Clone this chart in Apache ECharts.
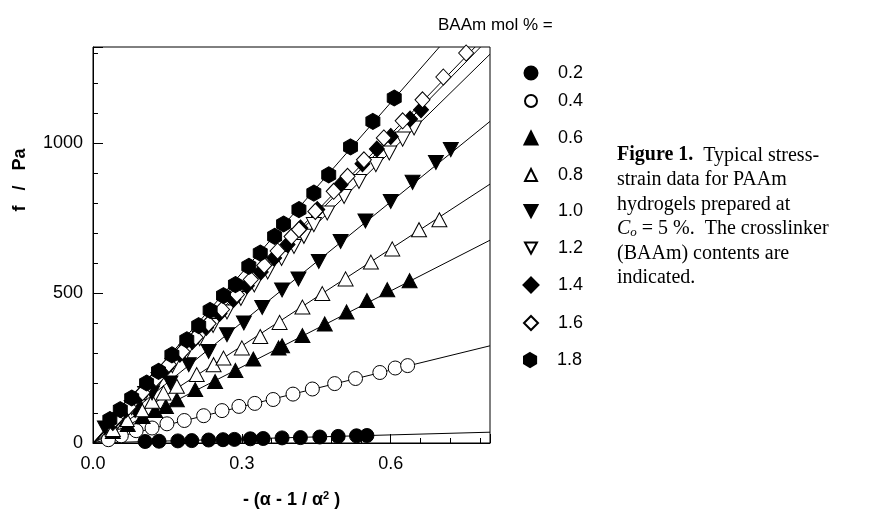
<!DOCTYPE html>
<html>
<head>
<meta charset="utf-8">
<script src="https://cdn.jsdelivr.net/npm/echarts@6/dist/echarts.min.js"></script>
<style>
html, body { margin: 0; padding: 0; background: #fff; }
#chart { width: 881px; height: 515px; }
</style>
</head>
<body>
<div id="chart"></div>
<script>
// tick labels
var xTickLabels = ['0.0', '0.3', '0.6'];
var yTickLabels = ['0', '500', '1000'];

// BAAm contents (legend)
var groups = ['0.2', '0.4', '0.6', '0.8', '1.0', '1.2', '1.4', '1.6', '1.8'];

// measured points [ -(a - 1/a^2), f / Pa ]
var d02 = [[0.105, 5], [0.133, 6], [0.171, 7], [0.199, 8], [0.233, 10], [0.262, 11], [0.285, 12], [0.317, 14],
	[0.343, 15], [0.381, 17], [0.418, 18], [0.457, 20], [0.494, 22], [0.531, 24], [0.552, 25]];
var d04 = [[0.031, 11], [0.057, 24], [0.087, 41], [0.119, 50], [0.149, 64], [0.184, 75], [0.223, 91], [0.260, 108],
	[0.294, 122], [0.326, 132], [0.363, 145], [0.403, 163], [0.442, 180], [0.487, 198], [0.529, 215], [0.578, 235],
	[0.609, 250], [0.634, 258]];
var d06 = [[0.040, 38], [0.070, 62], [0.100, 88], [0.125, 108], [0.147, 122], [0.169, 144], [0.206, 178], [0.246, 205],
	[0.287, 242], [0.323, 280], [0.374, 317], [0.381, 324], [0.422, 358], [0.467, 397], [0.511, 437], [0.552, 475],
	[0.593, 511], [0.638, 541]];
var d08 = [[0.040, 45], [0.068, 78], [0.098, 111], [0.119, 139], [0.142, 167], [0.169, 189], [0.209, 228], [0.243, 261],
	[0.263, 283], [0.300, 317], [0.337, 355], [0.376, 402], [0.422, 453], [0.462, 498], [0.509, 547], [0.560, 603],
	[0.603, 647], [0.657, 711], [0.698, 744]];
var d10 = [[0.024, 50], [0.055, 78], [0.085, 109], [0.119, 167], [0.156, 200], [0.193, 261], [0.233, 305], [0.270, 361],
	[0.304, 400], [0.341, 452], [0.381, 510], [0.414, 547], [0.455, 605], [0.499, 672], [0.549, 740], [0.600, 805],
	[0.644, 869], [0.691, 935], [0.721, 978]];
var d12 = [[0.050, 70], [0.078, 118], [0.105, 165], [0.132, 212], [0.160, 258], [0.188, 303], [0.215, 348], [0.242, 392],
	[0.270, 437], [0.298, 482], [0.325, 527], [0.352, 570], [0.380, 615], [0.405, 655], [0.425, 689], [0.445, 728],
	[0.472, 767], [0.506, 822], [0.536, 872], [0.570, 928], [0.597, 967], [0.624, 1013], [0.647, 1050]];
var d14 = [[0.040, 68], [0.066, 110], [0.094, 158], [0.120, 203], [0.148, 250], [0.175, 296], [0.200, 338], [0.228, 385],
	[0.255, 432], [0.283, 478], [0.310, 524], [0.338, 570], [0.365, 617], [0.392, 662], [0.418, 717], [0.452, 778],
	[0.499, 861], [0.543, 931], [0.572, 980], [0.600, 1022], [0.639, 1080], [0.661, 1111]];
var d16 = [[0.045, 80], [0.072, 120], [0.100, 168], [0.127, 215], [0.153, 262], [0.180, 305], [0.207, 352], [0.233, 398],
	[0.260, 445], [0.290, 495], [0.318, 545], [0.345, 592], [0.372, 640], [0.400, 688], [0.415, 711], [0.448, 772],
	[0.485, 839], [0.513, 889], [0.546, 944], [0.586, 1017], [0.624, 1074], [0.664, 1144], [0.706, 1220], [0.752, 1300]];
var d18 = [[0.034, 78], [0.055, 111], [0.078, 150], [0.108, 200], [0.132, 239], [0.159, 294], [0.189, 344], [0.213, 391],
	[0.236, 442], [0.263, 491], [0.287, 528], [0.314, 589], [0.337, 633], [0.366, 689], [0.384, 730], [0.415, 778],
	[0.445, 833], [0.475, 894], [0.519, 987], [0.564, 1072], [0.607, 1150]];
var pointSets = [d02, d04, d06, d08, d10, d12, d14, d16, d18];

// fitted straight lines, start and end
var fitStart = [0, 0];
var fitEnds = [[0.8, 36], [0.8, 324], [0.8, 676], [0.8, 863], [0.8, 1072], [0.8, 1296], [0.781, 1320], [0.770, 1320], [0.698, 1320]];

var hexagon = 'path://M0,-10 L8.66,-5 L8.66,5 L0,10 L-8.66,5 L-8.66,-5 Z';
var downTri = 'path://M0,0 L14,0 L7,13 Z';
var marks = [
	{ symbol: 'circle', size: 14, legend: 13, fill: '#000' },
	{ symbol: 'circle', size: 14, legend: 12, fill: '#fff' },
	{ symbol: 'triangle', size: [15, 14], legend: 13, fill: '#000' },
	{ symbol: 'triangle', size: [15, 14], legend: 12, fill: '#fff' },
	{ symbol: downTri, size: [15, 14], legend: 13, fill: '#000' },
	{ symbol: downTri, size: [15, 14], legend: 12, fill: '#fff' },
	{ symbol: 'diamond', size: [15, 16], legend: 15, fill: '#000' },
	{ symbol: 'diamond', size: [15, 16], legend: 14, fill: '#fff' },
	{ symbol: hexagon, size: [14, 16], legend: 14, fill: '#000' }
];
// legend row centres (px)
var legendRows = [69, 97, 134, 171, 207, 244, 281, 319, 356];

var series = [];
fitEnds.forEach(function (end) {
	series.push({
		type: 'line',
		data: [fitStart, end],
		showSymbol: false,
		silent: true,
		lineStyle: { color: '#000', width: 1 },
		z: 1
	});
});
groups.forEach(function (g, i) {
	series.push({
		name: g,
		type: 'scatter',
		data: pointSets[i],
		symbol: marks[i].symbol,
		symbolSize: marks[i].size,
		itemStyle: { color: marks[i].fill, borderColor: '#000', borderWidth: 1, opacity: 1 },
		z: 3
	});
});

var legends = groups.map(function (g, i) {
	var s = marks[i].legend;
	return {
		data: [g],
		left: 525 - s / 2,
		top: legendRows[i] - 10,
		orient: 'vertical',
		itemWidth: s,
		itemHeight: s,
		selectedMode: false,
		textStyle: { fontFamily: 'Liberation Sans', fontSize: 18, color: '#000', padding: [0, 0, 0, 22 - s / 2] }
	};
});

var myChart = echarts.init(document.getElementById('chart'));
var option = {
	animation: false,
	backgroundColor: '#fff',
	title: {
		text: 'BAAm mol % =',
		left: 433,
		top: 12,
		textStyle: { fontFamily: 'Liberation Sans', fontSize: 17, fontWeight: 'normal', color: '#000' }
	},
	legend: legends,
	grid: { left: 93, right: 391, top: 47, bottom: 72, show: true, borderColor: '#000', borderWidth: 1 },
	xAxis: {
		type: 'value',
		min: 0,
		max: 0.8,
		interval: 0.3,
		name: '- (\u03b1 - 1 / \u03b1{sup|2} )',
		nameLocation: 'middle',
		nameGap: 47,
		nameTextStyle: {
			fontFamily: 'Liberation Sans', fontSize: 18, fontWeight: 'bold', color: '#000',
			rich: { sup: { fontFamily: 'Liberation Sans', fontSize: 11, fontWeight: 'bold', verticalAlign: 'bottom', padding: [0, 0, 9, 0] } }
		},
		axisLine: { lineStyle: { color: '#000', width: 1 } },
		axisTick: { inside: true, length: 9, lineStyle: { color: '#000' } },
		minorTick: { show: true, splitNumber: 5, length: 5, lineStyle: { color: '#000' } },
		splitLine: { show: false },
		axisLabel: {
			margin: 12,
			fontFamily: 'Liberation Sans', fontSize: 18, color: '#000',
			showMaxLabel: false,
			formatter: function (v) {
				var k = Math.round(v / 0.3);
				return Math.abs(v - k * 0.3) < 1e-6 && xTickLabels[k] ? xTickLabels[k] : '';
			}
		}
	},
	yAxis: {
		type: 'value',
		min: 0,
		max: 1320,
		interval: 500,
		name: 'f   /   Pa',
		nameLocation: 'middle',
		nameRotate: 90,
		nameGap: 64,
		nameTextStyle: { fontFamily: 'Liberation Sans', fontSize: 18, fontWeight: 'bold', color: '#000', padding: [0, 0, 0, 130] },
		axisLine: { lineStyle: { color: '#000', width: 1 } },
		axisTick: { inside: true, length: 10, lineStyle: { color: '#000' } },
		minorTick: { show: true, splitNumber: 5, length: 5, lineStyle: { color: '#000' } },
		splitLine: { show: false },
		axisLabel: {
			margin: 10,
			fontFamily: 'Liberation Sans', fontSize: 18, color: '#000',
			showMaxLabel: false,
			formatter: function (v) {
				var k = Math.round(v / 500);
				return v === k * 500 && yTickLabels[k] ? yTickLabels[k] : '';
			}
		}
	},
	graphic: [{
		type: 'text',
		left: 617,
		top: 143,
		style: {
			text: '{b|Figure 1.}  Typical stress-\nstrain data for PAAm\nhydrogels prepared at\n{i|C}{s|o} = 5 %.  The crosslinker\n(BAAm) contents are\nindicated.',
			fontFamily: 'Liberation Serif',
			fontSize: 20,
			lineHeight: 24.5,
			fill: '#000',
			rich: {
				b: { fontFamily: 'Liberation Serif', fontSize: 20, fontWeight: 'bold', lineHeight: 24.5 },
				i: { fontFamily: 'Liberation Serif', fontSize: 20, fontStyle: 'italic', lineHeight: 24.5 },
				s: { fontFamily: 'Liberation Serif', fontSize: 13, fontStyle: 'italic', verticalAlign: 'top', padding: [10, 0, 0, 0], lineHeight: 24.5 }
			}
		}
	}],
	series: series
};
myChart.setOption(option);
</script>
</body>
</html>
